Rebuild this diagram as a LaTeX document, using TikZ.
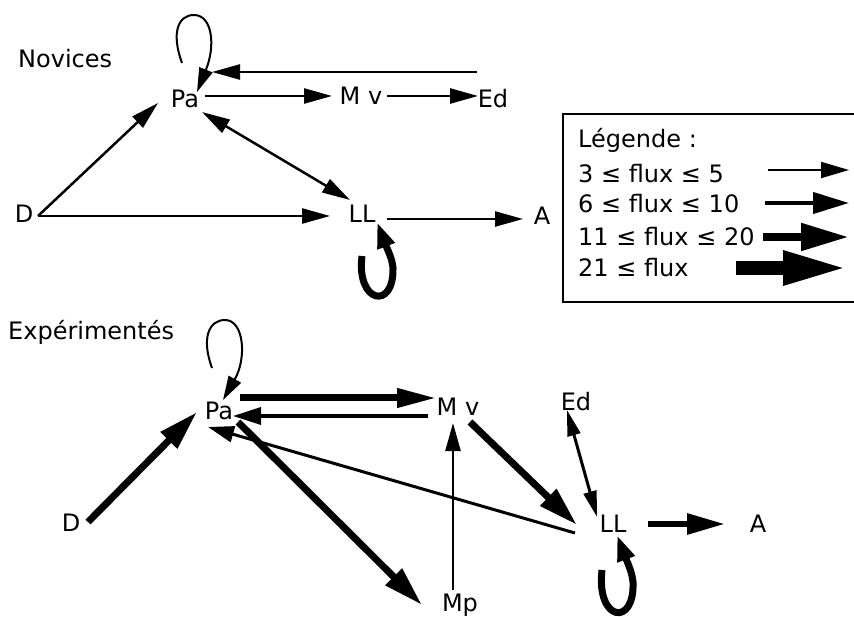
\documentclass[tikz,border=0pt]{standalone}
\usepackage{fontspec}
\setmainfont{DejaVu Sans}
\usetikzlibrary{arrows.meta,calc}
\begin{document}
\begin{tikzpicture}[x=1pt,y=-1pt,
  lbl/.style={font=\fontsize{24}{28}\selectfont, inner sep=0pt, anchor=base},
  fA/.style={line width=2.5pt, -{Triangle[length=28pt,width=15pt]}},
  fAA/.style={line width=2.5pt, {Triangle[length=28pt,width=15pt]}-{Triangle[length=28pt,width=15pt]}},
  fB/.style={line width=3.5pt, -{Triangle[length=28pt,width=17pt]}},
  fBB/.style={line width=3pt, {Triangle[length=26pt,width=13pt]}-{Triangle[length=26pt,width=13pt]}},
  fC/.style={line width=7pt, -{Triangle[length=40pt,width=22pt]}},
  loopthin/.style={line width=2pt, -{Triangle[length=24pt,width=14pt]}},
  loopthick/.style={line width=7pt, -{Triangle[length=26pt,width=17pt]}},
  lg1/.style={line width=2pt, -{Triangle[length=28pt,width=16pt]}},
  lg2/.style={line width=4pt, -{Triangle[length=36pt,width=21pt]}},
  lg3/.style={line width=8pt, -{Triangle[length=48pt,width=26pt]}},
  lg4/.style={line width=14pt, -{Triangle[length=66pt,width=31pt]}},
  box/.style={line width=2pt}
]
\useasboundingbox (0,0) rectangle (854,617);

% ---------------- Novices ----------------
\node[lbl,anchor=base west] (nov) at (18,68) {Novices};
\node[lbl] (Pa1) at (185,108) {Pa};
\node[lbl] (Mv1) at (361,105) {M v};
\node[lbl] (Ed1) at (493,108) {Ed};
\node[lbl] (D1) at (24,223) {D};
\node[lbl] (LL1) at (362,223) {LL};
\node[lbl] (A1) at (542,225) {A};

\draw[fA] ($(Ed1.base)+(-16,-36)$) -- ($(Pa1.base)+(27,-36)$);
\draw[fA] ($(Pa1.base)+(20,-12)$) -- ($(Mv1.base)+(-29,-9)$);
\draw[fA] ($(Mv1.base)+(26,-9)$) -- ($(Ed1.base)+(-15,-12)$);
\draw[fA] ($(D1.base)+(14,-7)$) -- ($(Pa1.base)+(-27,-5)$);
\draw[fA] ($(D1.base)+(14,-7)$) -- ($(LL1.base)+(-32,-7)$);
\draw[fAA] ($(Pa1.base)+(17,4)$) -- ($(LL1.base)+(-12,-23)$);
\draw[fA] ($(LL1.base)+(25,-4)$) -- ($(A1.base)+(-19,-6)$);

\begin{scope}[shift={(Pa1.base)}]
  \draw[loopthin] (-3,-45) .. controls (-14,-75) and (-7,-93) .. (9,-93)
        .. controls (27,-93) and (31,-63) .. (12,-16);
\end{scope}
\begin{scope}[shift={(LL1.base)}]
  \draw[loopthick] (0,33) .. controls (-6,80) and (32,88) .. (31,45)
        .. controls (30,35) and (26,28) .. (15,-1);
\end{scope}

% ---------------- Legend ----------------
\draw[box] (875,114) -- (563,114) -- (563,302) -- (875,302);
\node[lbl,anchor=base west] (lgt) at (578,148) {Légende :};
\node[lbl,anchor=base west] (lga) at (578,183) {3 ≤ flux ≤ 5};
\node[lbl,anchor=base west] (lgb) at (578,213) {6 ≤ flux ≤ 10};
\node[lbl,anchor=base west] (lgc) at (578,246) {11 ≤ flux ≤ 20};
\node[lbl,anchor=base west] (lgd) at (578,277) {21 ≤ flux};
\coordinate (l1s) at (768,170); \coordinate (l1e) at (849,170);
\coordinate (l2s) at (765,203); \coordinate (l2e) at (849,203);
\coordinate (l3s) at (763,237); \coordinate (l3e) at (849,237);
\coordinate (l4s) at (736,268); \coordinate (l4e) at (849,268);
\draw[lg1] (l1s) -- (l1e);
\draw[lg2] (l2s) -- (l2e);
\draw[lg3] (l3s) -- (l3e);
\draw[lg4] (l4s) -- (l4e);

% ---------------- Expérimentés ----------------
\node[lbl,anchor=base west] (exp) at (8,340) {Expérimentés};
\node[lbl] (Pa2) at (219,420) {Pa};
\node[lbl] (Mv2) at (458,415) {M v};
\node[lbl] (Ed2) at (576,410) {Ed};
\node[lbl] (D2) at (71,531) {D};
\node[lbl] (LL2) at (613,532) {LL};
\node[lbl] (A2) at (758,532) {A};
\node[lbl] (Mp2) at (460,611) {Mp};

\draw[fC, -{Triangle[length=40pt,width=18pt]}] ($(Pa2.base)+(21,-22)$) -- ($(Mv2.base)+(-21,-17)$);
\draw[fB] ($(Mv2.base)+(-30,1)$) -- ($(Pa2.base)+(14,-4)$);
\draw[line width=3pt, -{Triangle[length=26pt,width=16pt]}] ($(LL2.base)+(-38,1)$) -- ($(Pa2.base)+(-11,7)$);
\draw[fC] ($(D2.base)+(17,-9)$) -- ($(Pa2.base)+(-22,-8)$);
\draw[fC] ($(Pa2.base)+(19,2)$) -- ($(Mp2.base)+(-38,-6)$);
\draw[fA] ($(Mp2.base)+(-7,-21)$) -- ($(Mv2.base)+(-5,8)$);
\draw[fC] ($(Mv2.base)+(12,7)$) -- ($(LL2.base)+(-36,-7)$);
\draw[fBB] ($(Ed2.base)+(-9,0)$) -- ($(LL2.base)+(-16,-15)$);
\draw[line width=6pt, -{Triangle[length=38pt,width=20pt]}] ($(LL2.base)+(35,-8)$) -- ($(A2.base)+(-33,-8)$);

\begin{scope}[shift={(Pa2.base)}]
  \draw[loopthin] (-7,-52) .. controls (-18,-82) and (-10,-100) .. (6,-100)
        .. controls (25,-100) and (28,-62) .. (4,-20);
\end{scope}
\begin{scope}[shift={(LL2.base)}]
  \draw[loopthick] (-11,38) .. controls (-17,90) and (22,95) .. (20,50)
        .. controls (19,40) and (15,32) .. (4,3);
\end{scope}
\end{tikzpicture}
\end{document}
